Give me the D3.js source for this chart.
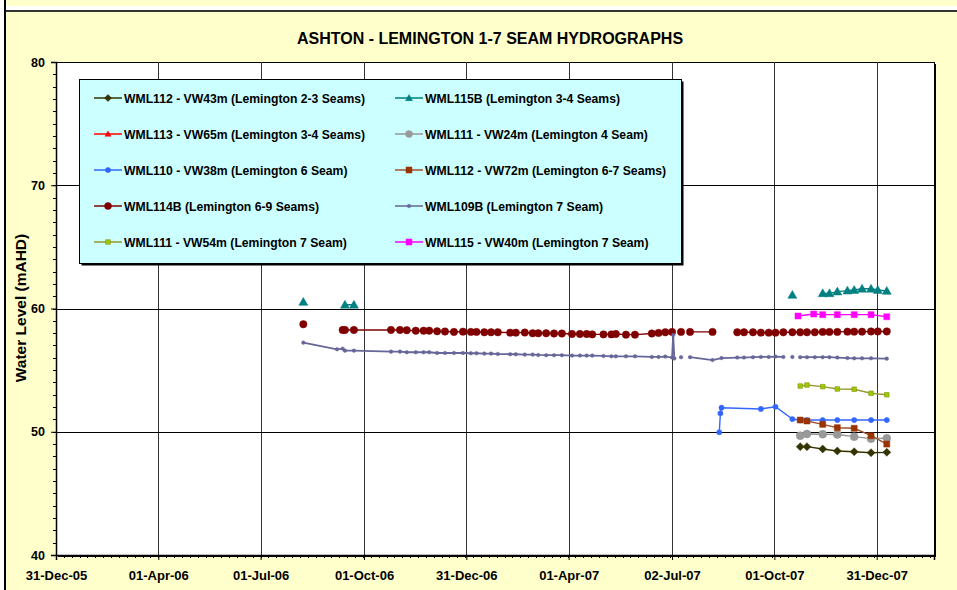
<!DOCTYPE html>
<html><head><meta charset="utf-8">
<script src="https://cdn.jsdelivr.net/npm/d3@7"></script>
<style>html,body{margin:0;padding:0;background:#fff;}svg{display:block;font-family:Arial,"Liberation Sans",sans-serif;}</style>
</head><body>
<script>
// ---- Data ----
const chartTitle = "ASHTON - LEMINGTON 1-7 SEAM HYDROGRAPHS";
const yTitle = "Water Level (mAHD)";
const xTickDates = ["2005-12-31","2006-04-01","2006-07-01","2006-10-01","2006-12-31","2007-04-01","2007-07-02","2007-10-01","2007-12-31"];
const yTicks = [40,50,60,70,80];

const seriesNames = [
 "WML112 - VW43m (Lemington 2-3 Seams)",
 "WML115B (Lemington 3-4 Seams)",
 "WML113 - VW65m (Lemington 3-4 Seams)",
 "WML111 - VW24m (Lemington 4 Seam)",
 "WML110 - VW38m (Lemington 6 Seam)",
 "WML112 - VW72m (Lemington 6-7 Seams)",
 "WML114B (Lemington 6-9 Seams)",
 "WML109B (Lemington 7 Seam)",
 "WML111 - VW54m (Lemington 7 Seam)",
 "WML115 - VW40m (Lemington 7 Seam)"
];

const lateDates = ["2007-10-24","2007-10-30","2007-11-13","2007-11-26","2007-12-11","2007-12-26","2008-01-09"];
const wml112vw43Levels = [48.79,48.79,48.60,48.44,48.38,48.30,48.33];
const wml111vw24Levels = [49.68,49.82,49.80,49.78,49.60,49.44,49.47];
const wml112vw72Levels = [50.95,50.87,50.60,50.33,50.28,49.68,49.00];
const wml111vw54Levels = [53.71,53.79,53.66,53.47,53.45,53.12,53.00];

const wml113Dates = [];
const wml113Levels = [];

const wml115bDates = ["2006-08-08","2006-09-07","2006-09-14","2006-09-22","2007-10-01","2007-10-17","2007-10-24","2007-11-13","2007-11-19","2007-11-26","2007-12-05","2007-12-11","2007-12-18","2007-12-26","2008-01-01","2008-01-09"];
const wml115bLevels = [60.53,null,60.30,60.30,null,61.10,null,61.23,61.23,61.37,61.45,61.50,61.60,61.60,61.50,61.42];

const wml110Dates = ["2007-08-13","2007-08-14","2007-08-15","2007-09-19","2007-10-02","2007-10-17","2007-10-24","2007-10-30","2007-11-13","2007-11-26","2007-12-11","2007-12-26","2008-01-09"];
const wml110Levels = [49.96,51.50,51.95,51.85,52.03,51.03,50.93,50.95,50.95,50.95,50.95,50.95,50.95];

const wml114bDates = ["2006-08-08","2006-09-07","2006-09-12","2006-09-14","2006-09-22","2006-10-25","2006-11-02","2006-11-08","2006-11-16","2006-11-23","2006-11-28","2006-12-05","2006-12-12","2006-12-20","2006-12-28","2007-01-04","2007-01-09","2007-01-16","2007-01-22","2007-01-28","2007-02-08","2007-02-13","2007-02-21","2007-02-28","2007-03-05","2007-03-12","2007-03-19","2007-03-26","2007-04-04","2007-04-11","2007-04-17","2007-04-22","2007-05-02","2007-05-09","2007-05-13","2007-05-22","2007-05-30","2007-06-14","2007-06-20","2007-06-26","2007-07-02","2007-07-03","2007-07-10","2007-07-14","2007-07-18","2007-08-07","2007-08-15","2007-08-29","2007-09-04","2007-09-12","2007-09-19","2007-09-26","2007-10-02","2007-10-09","2007-10-17","2007-10-24","2007-10-30","2007-11-06","2007-11-13","2007-11-19","2007-11-26","2007-12-05","2007-12-11","2007-12-18","2007-12-26","2008-01-01","2008-01-09"];
const wml114bLevels = [58.72,null,58.26,58.26,58.26,58.26,58.26,58.24,58.20,58.20,58.20,58.15,58.13,58.10,58.12,58.10,58.10,58.07,58.07,58.07,58.04,58.04,58.05,57.99,57.99,57.99,57.97,57.97,57.93,57.93,57.93,57.90,57.90,57.90,57.93,57.88,57.88,57.97,58.02,58.07,58.10,null,58.10,null,58.10,58.10,null,58.07,58.07,58.07,58.04,58.04,58.04,58.07,58.07,58.07,58.07,58.07,58.10,58.10,58.10,58.12,58.12,58.12,58.14,58.14,58.14];

const wml109bDates = ["2006-08-08","2006-09-07","2006-09-12","2006-09-14","2006-09-22","2006-10-25","2006-11-02","2006-11-08","2006-11-16","2006-11-23","2006-11-28","2006-12-05","2006-12-12","2006-12-20","2006-12-28","2007-01-04","2007-01-09","2007-01-16","2007-01-22","2007-01-28","2007-02-08","2007-02-13","2007-02-21","2007-02-28","2007-03-05","2007-03-12","2007-03-19","2007-03-26","2007-04-04","2007-04-11","2007-04-17","2007-04-22","2007-05-02","2007-05-09","2007-05-13","2007-05-22","2007-05-30","2007-06-14","2007-06-20","2007-06-26","2007-07-02","2007-07-03","2007-07-04","2007-07-07","2007-07-10","2007-07-14","2007-07-18","2007-08-07","2007-08-15","2007-08-29","2007-09-04","2007-09-12","2007-09-19","2007-09-26","2007-10-02","2007-10-09","2007-10-13","2007-10-17","2007-10-20","2007-10-24","2007-10-30","2007-11-06","2007-11-13","2007-11-19","2007-11-26","2007-12-05","2007-12-11","2007-12-18","2007-12-26","2008-01-09"];
const wml109bLevels = [57.23,56.69,56.74,56.58,56.58,56.50,56.50,56.45,56.45,56.45,56.45,56.39,56.39,56.39,56.39,56.37,56.37,56.34,56.34,56.31,56.29,56.29,56.26,56.26,56.23,56.21,56.21,56.21,56.18,56.18,56.18,56.18,56.15,56.12,56.12,56.12,56.12,56.07,56.07,56.10,56.02,57.85,55.95,null,56.05,null,56.05,55.82,55.98,56.02,56.02,56.05,56.07,56.07,56.10,56.07,null,56.07,null,56.05,56.05,56.05,56.05,56.05,56.02,55.98,55.96,55.96,55.96,55.93];

const wml115Dates = ["2007-10-22","2007-11-05","2007-11-13","2007-11-26","2007-12-11","2007-12-26","2008-01-09"];
const wml115Levels = [59.39,59.55,59.50,59.50,59.50,59.50,59.33];

// ---- Build series table ----
const parse = d3.utcParse("%Y-%m-%d");
const styles = [
 {line:"#333300", fill:"#333300", stroke:"#333300", shape:"diamond", r:4},
 {line:"#008080", fill:"#008080", stroke:"#008080", shape:"triangle", r:4.5},
 {line:"#FF0000", fill:"#FF0000", stroke:"#FF0000", shape:"triangle", r:3},
 {line:"#969696", fill:"#999999", stroke:"#999999", shape:"circle", r:4},
 {line:"#3366FF", fill:"#3366FF", stroke:"#3366FF", shape:"circle", r:2.6},
 {line:"#A0522D", fill:"#993300", stroke:"#993300", shape:"square", r:3},
 {line:"#800000", fill:"#800000", stroke:"#800000", shape:"circle", r:3.7},
 {line:"#666699", fill:"#666699", stroke:"#666699", shape:"circle", r:1.8},
 {line:"#999933", fill:"#99CC00", stroke:"#808000", shape:"square", r:2.3},
 {line:"#FF00FF", fill:"#FF00FF", stroke:"#FF00FF", shape:"square", r:3}
];
const seriesDates = [lateDates, wml115bDates, wml113Dates, lateDates, wml110Dates, lateDates, wml114bDates, wml109bDates, lateDates, wml115Dates];
const seriesLevels = [wml112vw43Levels, wml115bLevels, wml113Levels, wml111vw24Levels, wml110Levels, wml112vw72Levels, wml114bLevels, wml109bLevels, wml111vw54Levels, wml115Levels];
const series = seriesNames.map((name,i)=>({
  name, style: styles[i],
  pts: seriesDates[i].map((d,j)=>({date:parse(d), v:seriesLevels[i][j]}))
}));

// ---- Layout ----
const W=957, H=590;
const M = {left:56, right:934, top:62, bottom:555};
const svg = d3.select("body").append("svg").attr("width",W).attr("height",H);

// frame
svg.append("rect").attr("x",0).attr("y",0).attr("width",W).attr("height",H).attr("fill","#fff");
svg.append("rect").attr("x",5).attr("y",0).attr("width",W-5).attr("height",6).attr("fill","#FFFFCC");
svg.append("rect").attr("x",5).attr("y",11).attr("width",W-5).attr("height",H-11).attr("fill","#FFFFCC");
svg.append("line").attr("x1",5).attr("x2",W).attr("y1",11).attr("y2",11).attr("stroke","#333").attr("stroke-width",2);
svg.append("line").attr("x1",5).attr("x2",5).attr("y1",0).attr("y2",H).attr("stroke","#000").attr("stroke-width",2);

const x = d3.scaleUtc().domain([parse("2005-12-31"), parse("2008-02-20")]).range([M.left, M.right]);
const y = d3.scaleLinear().domain([40,80]).range([M.bottom, M.top]);

// plot area
svg.append("rect").attr("x",M.left+2).attr("y",M.top+2).attr("width",M.right-M.left).attr("height",M.bottom-M.top).attr("fill","#000");
svg.append("rect").attr("x",M.left).attr("y",M.top).attr("width",M.right-M.left).attr("height",M.bottom-M.top).attr("fill","#fff").attr("stroke","#000").attr("stroke-width",1).attr("shape-rendering","crispEdges");

const xTicks = xTickDates.map(parse);
const grid = svg.append("g").attr("shape-rendering","crispEdges");
grid.selectAll(".vg").data(xTicks.slice(1)).join("line")
  .attr("x1",d=>Math.round(x(d))+0.5).attr("x2",d=>Math.round(x(d))+0.5).attr("y1",M.top).attr("y2",M.bottom)
  .attr("stroke","#333").attr("stroke-width",1);
grid.selectAll(".hg").data(yTicks.slice(1,-1)).join("line")
  .attr("x1",M.left).attr("x2",M.right).attr("y1",d=>Math.round(y(d))+0.5).attr("y2",d=>Math.round(y(d))+0.5)
  .attr("stroke","#000").attr("stroke-width",1);

// axes
const xAxis = svg.append("g").attr("transform",`translate(0,${M.bottom})`)
  .call(d3.axisBottom(x).tickValues(xTicks).tickFormat(d3.utcFormat("%d-%b-%y")).tickSize(5).tickPadding(11));
const minorX = d3.range(0, 781, 7).map(k=>d3.utcDay.offset(parse("2005-12-31"),k));
svg.append("g").attr("shape-rendering","crispEdges").selectAll("line").data(minorX).join("line")
  .attr("x1",d=>Math.round(x(d))+0.5).attr("x2",d=>Math.round(x(d))+0.5).attr("y1",M.bottom).attr("y2",M.bottom+3).attr("stroke","#000");
const yAxis = svg.append("g").attr("transform",`translate(${M.left},0)`)
  .call(d3.axisLeft(y).tickValues(yTicks).tickSize(5).tickPadding(6));
svg.append("g").attr("shape-rendering","crispEdges").selectAll("line").data(d3.range(40,81,1)).join("line")
  .attr("x1",M.left-3).attr("x2",M.left).attr("y1",d=>Math.round(y(d))+0.5).attr("y2",d=>Math.round(y(d))+0.5).attr("stroke","#000");
[xAxis,yAxis].forEach(a=>{
  a.select(".domain").attr("stroke","#000").attr("stroke-width",1.5);
  a.selectAll(".tick line").attr("stroke","#000");
  a.selectAll(".tick text").attr("fill","#000").attr("font-weight","bold").attr("font-family","Arial, 'Liberation Sans', sans-serif");
});
xAxis.selectAll(".tick text").attr("font-size","13px");
yAxis.selectAll(".tick text").attr("font-size","12.5px");

// titles
svg.append("text").attr("x",490).attr("y",44).attr("text-anchor","middle").attr("font-size","16px").attr("font-weight","bold").text(chartTitle);
svg.append("text").attr("transform","translate(26,308) rotate(-90)").attr("text-anchor","middle").attr("font-size","15.5px").attr("font-weight","bold").text(yTitle);

// marker path
function markerPath(shape,r){
  if(shape==="circle") return d3.symbol(d3.symbolCircle, Math.PI*r*r)();
  if(shape==="square") return `M${-r},${-r}H${r}V${r}H${-r}Z`;
  if(shape==="diamond") return `M0,${-r}L${r},0L0,${r}L${-r},0Z`;
  if(shape==="triangle") return `M0,${-r}L${r},${r*0.75}L${-r},${r*0.75}Z`;
}

// legend
const lg = svg.append("g");
const LX=79, LY=79, LW=602, LH=184;
lg.append("rect").attr("x",LX+2.5).attr("y",LY+2.5).attr("width",LW).attr("height",LH).attr("fill","#000");
lg.append("rect").attr("x",LX+0.5).attr("y",LY+0.5).attr("width",LW).attr("height",LH).attr("fill","#CCFFFF").attr("stroke","#000");
series.forEach((s,i)=>{
  const col=i%2, row=Math.floor(i/2);
  const cx = col===0 ? 108 : 409;
  const cy = 98 + row*36;
  lg.append("line").attr("x1",cx-14).attr("x2",cx+14).attr("y1",cy).attr("y2",cy).attr("stroke",s.style.line).attr("stroke-width",1.5);
  lg.append("path").attr("d",markerPath(s.style.shape, Math.min(s.style.r,3.5))).attr("transform",`translate(${cx},${cy})`)
    .attr("fill",s.style.fill).attr("stroke",s.style.stroke).attr("stroke-width",0.5);
  lg.append("text").attr("x",cx+16).attr("y",cy+4.5).attr("font-size","12.2px").attr("font-weight","bold").attr("fill","#000").text(s.name);
});

// series
const line = d3.line().defined(d=>d.v!=null).x(d=>x(d.date)).y(d=>y(d.v));
const plot = svg.append("g");
series.forEach(s=>{
  const g = plot.append("g");
  g.append("path").datum(s.pts).attr("d",line).attr("fill","none").attr("stroke",s.style.line).attr("stroke-width",s.style.r<2?1.8:1.4);
  g.selectAll("path.m").data(s.pts.filter(d=>d.v!=null)).join("path").attr("class","m")
    .attr("d",markerPath(s.style.shape,s.style.r)).attr("transform",d=>`translate(${x(d.date)},${y(d.v)})`)
    .attr("fill",s.style.fill).attr("stroke",s.style.stroke).attr("stroke-width",0.5);
});
</script>
</body></html>
